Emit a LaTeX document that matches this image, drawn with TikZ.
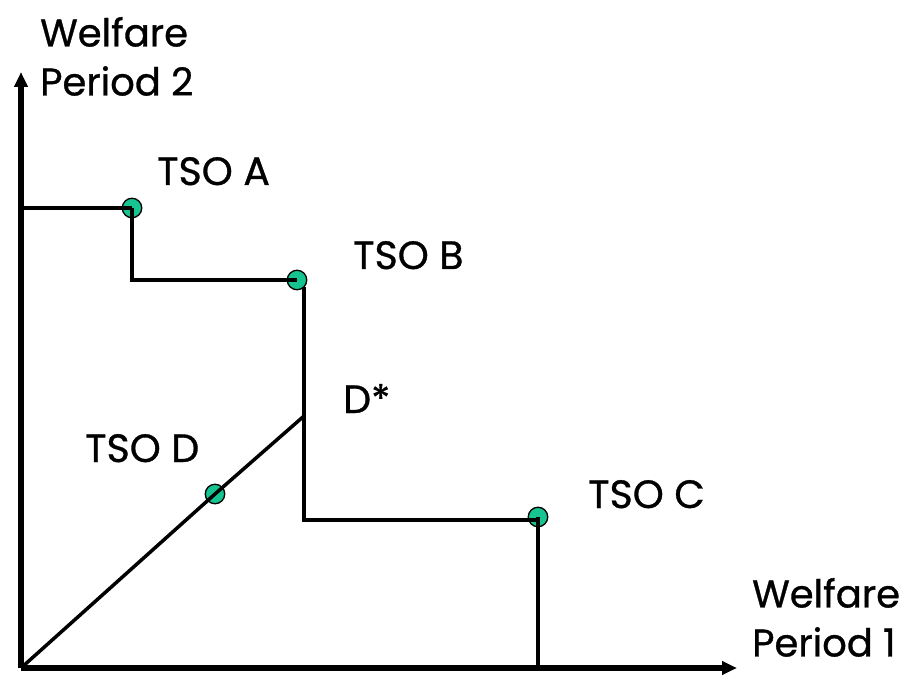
\documentclass[tikz,border=0pt]{standalone}
\usepackage{fontspec}
\setmainfont{Poppins}[FakeBold=0.8]
\usetikzlibrary{arrows.meta}
\definecolor{dotgreen}{RGB}{22,196,146}
\begin{document}
\begin{tikzpicture}[x=1pt,y=-1pt,
  axis/.style={line width=5.5pt,-{Triangle[length=15pt,width=13pt]}},
  path/.style={line width=3.5pt},
  tso/.style={circle,draw=black,line width=1.3pt,fill=dotgreen,minimum size=19.5pt,inner sep=0pt},
  lab/.style={font=\fontsize{39.5}{49}\selectfont,inner sep=0pt,anchor=base west},
  axlab/.style={font=\fontsize{38.5}{49}\selectfont,inner sep=0pt,anchor=south west,align=left}]
\useasboundingbox (0,0) rectangle (905,676);
% origin and corners of the frontier
\coordinate (O) at (21,668);
\coordinate (ytop) at (21,72);
\coordinate (xend) at (737,668);
\coordinate (y0) at (21,208);
\coordinate (a1) at (132,280);
\coordinate (b1) at (304,287);
\coordinate (b2) at (304,520);
\coordinate (dstar) at (304,416);
\coordinate (c0) at (538,668);
% points of the four operators
\node[tso] (A) at (132,208) {};
\node[tso] (B) at (297,280) {};
\node[tso] (C) at (538,517) {};
\node[tso] (D) at (215,494) {};
% axes
\draw[axis] (O) -- (ytop);
\draw[axis] (O) -- (xend);
% frontier
\draw[path] (y0) -- (A.center);
\draw[path] (A.center) -- (a1) -- (B.center);
\draw[path] (b1) -- (b2) -- (C.center |- b2);
\draw[path] (C.center) -- (c0);
\draw[path] (O) -- (D.center) -- (dstar);
% labels
\node[lab] (lA) at (157,185) {TSO A};
\node[lab] (lB) at (353,269) {TSO B};
\node[lab] (lC) at (588,508) {TSO C};
\node[lab] (lD) at (85,462) {TSO D};
\node[lab] (lDs) at (343,413) {D*};
\node[axlab] (ylab) at (40,96) {Welfare\\Period 2};
\node[axlab] (xlab) at (752,657) {Welfare\\Period 1};
\end{tikzpicture}
\end{document}
